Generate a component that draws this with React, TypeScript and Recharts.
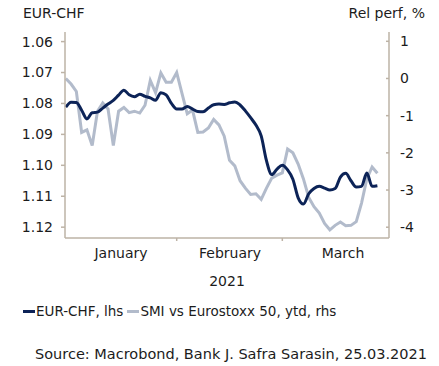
import React from 'react';
import { LineChart, Line, XAxis, YAxis } from 'recharts';

const FONT = '"DejaVu Sans", sans-serif';
const INK = '#1c1c1c';
const AXIS = '#bdb3a6';
const NAVY = '#0c2357';
const SILVER = '#b2bbcb';

// one point per business day, index 0 = 1 Jan 2021 ... 59 = 25 Mar 2021
const eurChf = [
  1.0812, 1.0796, 1.0797, 1.0822, 1.085, 1.083, 1.0828, 1.0815, 1.0802, 1.079,
  1.0773, 1.0757, 1.0772, 1.0778, 1.077, 1.0777, 1.0782, 1.079, 1.0765, 1.0772,
  1.08, 1.0818, 1.0818, 1.081, 1.0818, 1.0826, 1.0827, 1.0815, 1.0804, 1.0802,
  1.0803, 1.0798, 1.0795, 1.0805, 1.0824, 1.0846, 1.087, 1.0905, 1.0985, 1.103,
  1.1012, 1.1, 1.1015, 1.1045, 1.1105, 1.1125, 1.1092, 1.1075, 1.1068, 1.1074,
  1.108, 1.1075, 1.1038, 1.1026, 1.105, 1.107, 1.1068, 1.1025, 1.1068, 1.1066,
];
const relPerf = [
  0.0, -0.15, -0.35, -1.45, -1.38, -1.8, -0.88, -0.66, -0.82, -1.8,
  -0.88, -0.78, -0.92, -0.88, -0.93, -0.72, -0.05, -0.38, 0.15, -0.1,
  -0.1, 0.16, -0.4, -0.95, -0.85, -1.45, -1.44, -1.33, -1.1, -1.25,
  -1.55, -2.2, -2.35, -2.75, -2.95, -3.12, -3.1, -3.25, -2.95, -2.68,
  -2.6, -2.54, -1.9, -2.0, -2.3, -2.7, -3.2, -3.45, -3.62, -3.9,
  -4.07, -3.95, -3.86, -3.96, -3.95, -3.85, -3.35, -2.7, -2.38, -2.55,
];

const monthLabels = ['January', 'February', 'March'];
const monthMid = [10.45, 31.1, 52.5];
const monthStart = [21, 41];
const lhsTicks = [1.06, 1.07, 1.08, 1.09, 1.1, 1.11, 1.12];
const rhsTicks = [-4, -3, -2, -1, 0, 1];

const data = eurChf.map((v, i) => ({ t: i, eurChf: v, relPerf: relPerf[i] }));

function MonthTick({ x, y, payload }: any) {
  const idx = monthMid.indexOf(payload.value);
  if (idx >= 0) {
    return (
      <text x={x} y={y + 20} textAnchor="middle" fontSize={14} fill={INK} fontFamily={FONT}>
        {monthLabels[idx]}
      </text>
    );
  }
  return <line x1={x} x2={x} y1={y} y2={y + 3} stroke={AXIS} strokeWidth={1.5} />;
}

// right-hand ticks point inwards, so draw them by hand
function RhsTick({ x, y, payload }: any) {
  return (
    <g>
      <line x1={x - 14} x2={x - 11} y1={y} y2={y} stroke={AXIS} strokeWidth={1.5} />
      <text x={x} y={y} dy="0.355em" textAnchor="start" fontSize={14} fill={INK} fontFamily={FONT}>
        {payload.value}
      </text>
    </g>
  );
}

const text: React.CSSProperties = {
  position: 'absolute',
  fontFamily: FONT,
  color: INK,
  whiteSpace: 'nowrap',
  lineHeight: 1,
};

export default function App() {
  return (
    <div style={{ position: 'absolute', left: 0, top: 0, width: 439, height: 366, background: '#fff' }}>
      <div style={{ ...text, left: 23, top: 6, fontSize: 14 }}>EUR-CHF</div>
      <div style={{ ...text, right: 14, top: 6, fontSize: 14 }}>Rel perf, %</div>

      <div style={{ position: 'absolute', left: 0, top: 0 }}>
        <LineChart width={439} height={295} data={data} margin={{ top: 32, right: 0, bottom: 7, left: 0 }}>
          <XAxis
            dataKey="t"
            type="number"
            domain={[-0.15, 61.2]}
            ticks={[...monthStart, ...monthMid].sort((a, b) => a - b)}
            interval={0}
            tick={<MonthTick />}
            tickLine={false}
            tickSize={0}
            tickMargin={0}
            height={50}
            axisLine={{ stroke: AXIS, strokeWidth: 1.5 }}
            label={{ value: '2021', position: 'insideBottom', offset: 2, fontSize: 14, fill: INK, fontFamily: FONT }}
          />
          <YAxis
            yAxisId="l"
            reversed
            domain={[1.0569, 1.1235]}
            ticks={lhsTicks}
            interval={0}
            width={65}
            tickFormatter={(v: number) => v.toFixed(2)}
            tick={{ fontSize: 14, fill: INK, fontFamily: FONT }}
            tickSize={4}
            tickMargin={8}
            tickLine={{ stroke: AXIS, strokeWidth: 1.5 }}
            axisLine={{ stroke: AXIS, strokeWidth: 1.5 }}
          />
          <YAxis
            yAxisId="r"
            orientation="right"
            domain={[-4.29, 1.25]}
            ticks={rhsTicks}
            interval={0}
            width={50}
            tick={<RhsTick />}
            tickLine={false}
            tickSize={0}
            tickMargin={11}
            axisLine={{ stroke: AXIS, strokeWidth: 1.5 }}
          />
          <Line
            yAxisId="r"
            dataKey="relPerf"
            type="linear"
            stroke={SILVER}
            strokeWidth={3}
            dot={false}
            isAnimationActive={false}
          />
          <Line
            yAxisId="l"
            dataKey="eurChf"
            type="monotone"
            stroke={NAVY}
            strokeWidth={3}
            dot={false}
            isAnimationActive={false}
          />
        </LineChart>
      </div>

      <div style={{ ...text, left: 23, top: 305, fontSize: 13.5, display: 'flex', alignItems: 'center' }}>
        <span style={{ display: 'inline-block', width: 12, height: 3, background: NAVY, marginRight: 1 }} />
        <span>EUR-CHF, lhs</span>
        <span style={{ display: 'inline-block', width: 12, height: 3, background: SILVER, margin: '0 1px 0 4px' }} />
        <span>SMI vs Eurostoxx 50, ytd, rhs</span>
      </div>

      <div style={{ ...text, left: 35, top: 347, fontSize: 14.5 }}>
        Source: Macrobond, Bank J. Safra Sarasin, 25.03.2021
      </div>
    </div>
  );
}
